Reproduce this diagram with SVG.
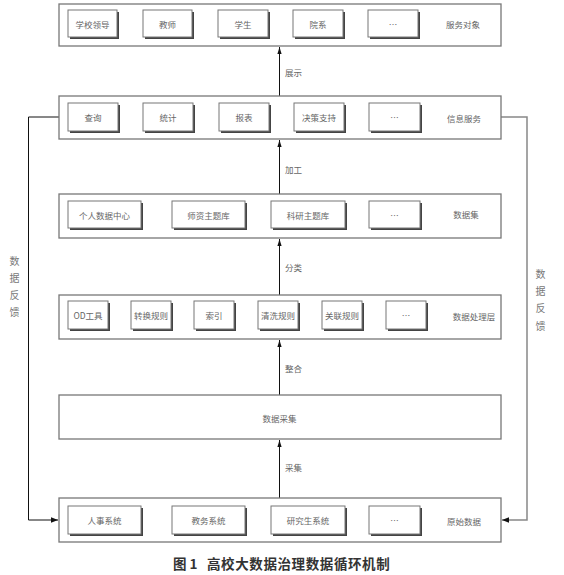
<svg xmlns="http://www.w3.org/2000/svg" width="564" height="575" viewBox="0 0 564 575">
<defs>
<style>
.layer{fill:#fff;stroke:#777;stroke-width:1.3}
.sh{fill:#444;stroke:none}
.box{fill:#fff;stroke:#777;stroke-width:1}
.t{font-family:"Noto Sans CJK SC","Noto Sans",sans-serif;font-size:8.5px;fill:#666;text-anchor:middle;dominant-baseline:central}
.lbl{font-family:"Noto Sans CJK SC","Noto Sans",sans-serif;font-size:8.5px;fill:#666;dominant-baseline:central}
.fb{font-family:"Noto Sans CJK SC","Noto Sans",sans-serif;font-size:10px;fill:#777;text-anchor:middle;dominant-baseline:central}
.cap{font-family:"Noto Sans CJK SC","Noto Sans",sans-serif;font-size:13.5px;font-weight:bold;fill:#333;dominant-baseline:central}
.ar{stroke:#111;stroke-width:1;fill:none}
.arg{stroke:#888;stroke-width:1.5;fill:none}
</style>
<marker id="ah" viewBox="0 0 10 10" refX="10" refY="5" markerWidth="7" markerHeight="7" markerUnits="userSpaceOnUse" orient="auto">
<path d="M0,1 L10,5 L0,9 Z" fill="#111"/>
</marker>
<marker id="ahv" viewBox="0 0 10 10" refX="10" refY="5" markerWidth="9" markerHeight="7" markerUnits="userSpaceOnUse" orient="auto">
<path d="M0,2 L10,5 L0,8 Z" fill="#111"/>
</marker>
</defs>

<g id="connectors">
<line class="ar" x1="279.5" y1="96" x2="279.5" y2="47" marker-end="url(#ahv)"/>
<line class="ar" x1="279.5" y1="194" x2="279.5" y2="140" marker-end="url(#ahv)"/>
<line class="ar" x1="279.5" y1="295" x2="279.5" y2="239" marker-end="url(#ahv)"/>
<line class="ar" x1="279.5" y1="395" x2="279.5" y2="340" marker-end="url(#ahv)"/>
<line class="ar" x1="279.5" y1="498" x2="279.5" y2="440" marker-end="url(#ahv)"/>
<polyline class="ar" points="59,117 28.5,117 28.5,520 58,520" marker-end="url(#ah)"/>
<polyline class="arg" points="501,117 527,117 527,520 502,520" marker-end="url(#ah)"/>
<text class="lbl" x="285" y="72">展示</text>
<text class="lbl" x="285" y="169">加工</text>
<text class="lbl" x="285" y="267">分类</text>
<text class="lbl" x="285" y="368">整合</text>
<text class="lbl" x="285" y="467">采集</text>
</g>

<g id="feedback-left">
<text class="fb" x="14.5" y="260">数</text>
<text class="fb" x="14.5" y="277">据</text>
<text class="fb" x="14.5" y="294">反</text>
<text class="fb" x="14.5" y="311">馈</text>
</g>
<g id="feedback-right">
<text class="fb" x="540.5" y="273">数</text>
<text class="fb" x="540.5" y="290">据</text>
<text class="fb" x="540.5" y="307">反</text>
<text class="fb" x="540.5" y="325">馈</text>
</g>

<g id="service-targets">
<rect class="layer" x="59" y="4" width="442" height="42"/>
<g id="n-leader"><rect class="sh" x="70" y="12" width="49" height="27"/><rect class="box" x="68" y="10" width="49" height="27"/><text class="t" x="92.5" y="23.5">学校领导</text></g>
<g id="n-teacher"><rect class="sh" x="145" y="12" width="49" height="27"/><rect class="box" x="143" y="10" width="49" height="27"/><text class="t" x="167.5" y="23.5">教师</text></g>
<g id="n-student"><rect class="sh" x="220" y="12" width="50" height="27"/><rect class="box" x="218" y="10" width="50" height="27"/><text class="t" x="243" y="23.5">学生</text></g>
<g id="n-dept"><rect class="sh" x="295" y="12" width="50" height="27"/><rect class="box" x="293" y="10" width="50" height="27"/><text class="t" x="318" y="23.5">院系</text></g>
<g id="n-more1"><rect class="sh" x="370" y="12" width="50" height="27"/><rect class="box" x="368" y="10" width="50" height="27"/><text class="t" x="393" y="23.5">…</text></g>
<text class="t" x="463" y="24">服务对象</text>
</g>

<g id="info-service">
<rect class="layer" x="59" y="96" width="442" height="43"/>
<g id="n-query"><rect class="sh" x="70" y="105" width="50" height="28"/><rect class="box" x="68" y="103" width="50" height="28"/><text class="t" x="93" y="117">查询</text></g>
<g id="n-stat"><rect class="sh" x="145" y="105" width="50" height="28"/><rect class="box" x="143" y="103" width="50" height="28"/><text class="t" x="168" y="117">统计</text></g>
<g id="n-report"><rect class="sh" x="221" y="105" width="50" height="28"/><rect class="box" x="219" y="103" width="50" height="28"/><text class="t" x="244" y="117">报表</text></g>
<g id="n-decision"><rect class="sh" x="296" y="105" width="50" height="28"/><rect class="box" x="294" y="103" width="50" height="28"/><text class="t" x="319" y="117">决策支持</text></g>
<g id="n-more2"><rect class="sh" x="371" y="105" width="51" height="28"/><rect class="box" x="369" y="103" width="51" height="28"/><text class="t" x="394.5" y="117">…</text></g>
<text class="t" x="464" y="117.5">信息服务</text>
</g>

<g id="dataset">
<rect class="layer" x="59" y="194" width="442" height="44"/>
<g id="n-personal"><rect class="sh" x="70" y="203" width="73" height="27"/><rect class="box" x="68" y="201" width="73" height="27"/><text class="t" x="104.5" y="214.5">个人数据中心</text></g>
<g id="n-faculty"><rect class="sh" x="174" y="203" width="73" height="27"/><rect class="box" x="172" y="201" width="73" height="27"/><text class="t" x="208.5" y="214.5">师资主题库</text></g>
<g id="n-research"><rect class="sh" x="273" y="203" width="74" height="27"/><rect class="box" x="271" y="201" width="74" height="27"/><text class="t" x="308" y="214.5">科研主题库</text></g>
<g id="n-more3"><rect class="sh" x="371" y="203" width="51" height="27"/><rect class="box" x="369" y="201" width="51" height="27"/><text class="t" x="394.5" y="214.5">…</text></g>
<text class="t" x="466" y="213.5">数据集</text>
</g>

<g id="processing">
<rect class="layer" x="59" y="295" width="442" height="44"/>
<g id="n-od"><rect class="sh" x="70" y="303" width="40" height="28"/><rect class="box" x="68" y="301" width="40" height="28"/><text class="t" x="88" y="315">OD工具</text></g>
<g id="n-convert"><rect class="sh" x="133" y="303" width="40" height="28"/><rect class="box" x="131" y="301" width="40" height="28"/><text class="t" x="151" y="315">转换规则</text></g>
<g id="n-index"><rect class="sh" x="196" y="303" width="40" height="28"/><rect class="box" x="194" y="301" width="40" height="28"/><text class="t" x="214" y="315">索引</text></g>
<g id="n-clean"><rect class="sh" x="260" y="303" width="40" height="28"/><rect class="box" x="258" y="301" width="40" height="28"/><text class="t" x="278" y="315">清洗规则</text></g>
<g id="n-assoc"><rect class="sh" x="324" y="303" width="40" height="28"/><rect class="box" x="322" y="301" width="40" height="28"/><text class="t" x="342" y="315">关联规则</text></g>
<g id="n-more4"><rect class="sh" x="388" y="303" width="40" height="28"/><rect class="box" x="386" y="301" width="40" height="28"/><text class="t" x="406" y="315">…</text></g>
<text class="t" x="474" y="316">数据处理层</text>
</g>

<g id="collection">
<rect class="layer" x="59" y="395" width="442" height="44"/>
<text class="t" x="279.5" y="418">数据采集</text>
</g>

<g id="raw-data">
<rect class="layer" x="59" y="498" width="442" height="44"/>
<g id="n-hr"><rect class="sh" x="70" y="508" width="73" height="28"/><rect class="box" x="68" y="506" width="73" height="28"/><text class="t" x="104.5" y="520">人事系统</text></g>
<g id="n-edu"><rect class="sh" x="174" y="508" width="73" height="28"/><rect class="box" x="172" y="506" width="73" height="28"/><text class="t" x="208.5" y="520">教务系统</text></g>
<g id="n-grad"><rect class="sh" x="273" y="508" width="74" height="28"/><rect class="box" x="271" y="506" width="74" height="28"/><text class="t" x="308" y="520">研究生系统</text></g>
<g id="n-more5"><rect class="sh" x="371" y="508" width="51" height="28"/><rect class="box" x="369" y="506" width="51" height="28"/><text class="t" x="394.5" y="520">…</text></g>
<text class="t" x="464" y="520.5">原始数据</text>
</g>

<text class="cap" y="563"><tspan x="173">图 1</tspan><tspan x="207" letter-spacing="0.6">高校大数据治理数据循环机制</tspan></text>
</svg>
